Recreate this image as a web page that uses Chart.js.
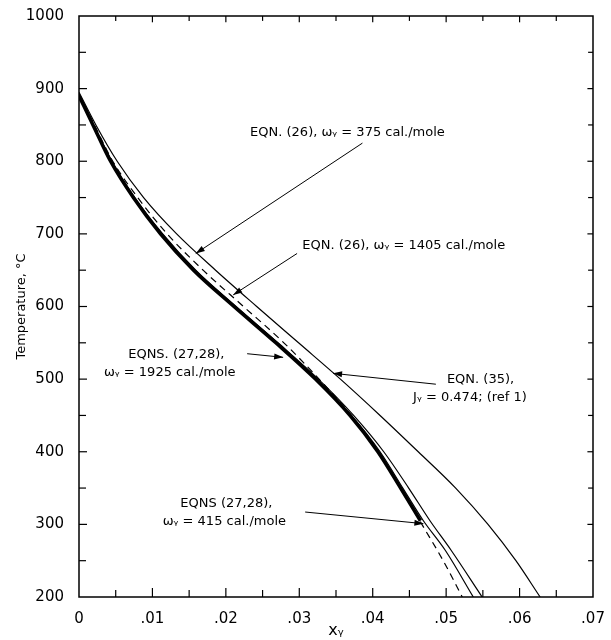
<!DOCTYPE html>
<html><head><meta charset="utf-8">
<script src="https://cdn.jsdelivr.net/npm/chart.js@4.4.0/dist/chart.umd.min.js"></script>
<style>html,body{margin:0;padding:0;background:#fff}canvas{display:block}</style>
</head><body>
<canvas id="c" width="611" height="640"></canvas>
<script>
// axis ticks
const xTickValues=[0,0.01,0.02,0.03,0.04,0.05,0.06,0.07];
const xTickLabels=['0','.01','.02','.03','.04','.05','.06','.07'];
const xMinorValues=[0.005,0.015,0.025,0.035,0.045,0.055,0.065];
const yTickValues=[200,300,400,500,600,700,800,900,1000];
const yTickLabels=['200','300','400','500','600','700','800','900','1000'];
const yMinorValues=[250,350,450,550,650,750,850,950];

// EQN (35), ref 1 - outermost curve
const eqn35T=[895,850,800,750,700,650,600,550,500,450,400,350,300,250,200];
const eqn35X=[0,0.0023,0.0052,0.0088,0.0133,0.0186,0.0242,0.0299,0.0356,0.0410,0.0462,0.0513,0.0557,0.0595,0.0628];
// EQN (26) curves - thin solid, in the bundle
const eqn26T=[893,850,800,750,700,650,600,550,500,450,400,350,305,264,200];
const eqn26aX=[0,0.002,0.0045,0.0076,0.0114,0.0159,0.0214,0.0271,0.0326,0.0374,0.0415,0.0449,0.0478,0.0507,0.0549];
const eqn26bX=[0,0.0019,0.0044,0.0075,0.0113,0.0158,0.0213,0.027,0.0324,0.0371,0.041,0.0441,0.0469,0.0499,0.0537];
// EQNS (27,28) w=1925 - heavy line
const eqn2728aT=[890,850,800,750,700,650,600,550,500,450,400,350,305];
const eqn2728aX=[0,0.0019,0.0043,0.0074,0.0111,0.0156,0.0211,0.0268,0.0322,0.0369,0.0407,0.0438,0.0465];
// EQNS (27,28) w=415 - dashed
const eqn2728bT=[893,850,800,750,700,650,600,550,500,450,400,350,300,250,200];
const eqn2728bX=[0,0.0021,0.0046,0.008,0.012,0.0169,0.0224,0.0279,0.0327,0.0371,0.0408,0.0438,0.0467,0.0496,0.0522];

// labels, positions in data units
const notes=[
  {lines:['EQN. (26), ωᵧ = 375 cal./mole'],x:0.0233,y:840,from:[0.0386,825],to:[0.0159,673]},
  {lines:['EQN. (26), ωᵧ = 1405 cal./mole'],x:0.0304,y:684,from:[0.0297,673],to:[0.021,616]},
  {lines:['EQNS. (27,28),','ωᵧ = 1925 cal./mole'],x:[0.0067,0.0034],y:534,from:[0.0229,535],to:[0.0278,530]},
  {lines:['EQN. (35),','Jᵧ = 0.474; (ref 1)'],x:[0.0501,0.0455],y:500,from:[0.0486,493],to:[0.0346,508]},
  {lines:['EQNS (27,28),','ωᵧ = 415 cal./mole'],x:[0.0138,0.0114],y:328,from:[0.0308,317],to:[0.0469,301]}
];

function pts(xs,ys){return xs.map((x,i)=>({x,y:ys[i]}))}
function line(data,width,dash){
  return {data,borderColor:'#000',borderWidth:width,borderDash:dash||[],pointRadius:0,fill:false,cubicInterpolationMode:'monotone'};
}

const framePlugin={
  id:'frame',
  afterDatasetsDraw(chart){
    const {ctx,chartArea:a,scales:{x,y}}=chart;
    ctx.save();
    ctx.strokeStyle='#000';ctx.lineWidth=1.5;
    ctx.strokeRect(a.left,a.top,a.right-a.left,a.bottom-a.top);
    ctx.lineWidth=1.2;
    const seg=(x1,y1,x2,y2)=>{ctx.beginPath();ctx.moveTo(x1,y1);ctx.lineTo(x2,y2);ctx.stroke()};
    const xt=(vals,len)=>vals.forEach(v=>{const p=x.getPixelForValue(v);seg(p,a.bottom,p,a.bottom-len);seg(p,a.top,p,a.top+len*0.7)});
    const yt=(vals,len)=>vals.forEach(v=>{const p=y.getPixelForValue(v);seg(a.left,p,a.left+len,p);seg(a.right,p,a.right-len*0.7,p)});
    xt(xTickValues.slice(1,-1),9);xt(xMinorValues,7);
    yt(yTickValues.slice(1,-1),8);yt(yMinorValues,7);
    // annotations
    ctx.fillStyle='#000';ctx.font='13px "DejaVu Sans"';ctx.textBaseline='middle';ctx.textAlign='left';
    const lh=18;
    notes.forEach(n=>{
      const py=y.getPixelForValue(n.y);
      n.lines.forEach((t,i)=>{
        const xv=Array.isArray(n.x)?n.x[i]:n.x;
        ctx.fillText(t,x.getPixelForValue(xv),py+i*lh);
      });
      const fx=x.getPixelForValue(n.from[0]),fy=y.getPixelForValue(n.from[1]);
      const tx=x.getPixelForValue(n.to[0]),ty=y.getPixelForValue(n.to[1]);
      ctx.lineWidth=1;seg(fx,fy,tx,ty);
      const ang=Math.atan2(ty-fy,tx-fx),L=9,W=3;
      ctx.beginPath();
      ctx.moveTo(tx,ty);
      ctx.lineTo(tx-L*Math.cos(ang)+W*Math.sin(ang),ty-L*Math.sin(ang)-W*Math.cos(ang));
      ctx.lineTo(tx-L*Math.cos(ang)-W*Math.sin(ang),ty-L*Math.sin(ang)+W*Math.cos(ang));
      ctx.closePath();ctx.fill();
    });
    ctx.restore();
  }
};

new Chart(document.getElementById('c'),{
  type:'line',
  data:{datasets:[
    line(pts(eqn35X,eqn35T),1.2),
    line(pts(eqn26aX,eqn26T),1.2),
    line(pts(eqn26bX,eqn26T),1.2),
    line(pts(eqn2728bX,eqn2728bT),1.2,[7,5]),
    line(pts(eqn2728aX,eqn2728aT),3.5)
  ]},
  options:{
    responsive:false,devicePixelRatio:1,animation:false,
    layout:{padding:{left:0,top:10,right:18,bottom:0}},
    plugins:{legend:{display:false},tooltip:{enabled:false}},
    scales:{
      x:{type:'linear',min:0,max:0.07,
        afterBuildTicks:s=>{s.ticks=xTickValues.map(v=>({value:v}))},
        afterFit:s=>{s.height=43},
        grid:{display:false},border:{display:false},
        ticks:{padding:5,color:'#000',font:{family:'DejaVu Sans',size:15},maxRotation:0,autoSkip:false,
          callback:(v,i)=>xTickLabels[i]},
        title:{display:true,text:'xᵧ',color:'#000',font:{family:'DejaVu Sans',size:16},padding:{top:0,bottom:0}}
      },
      y:{type:'linear',min:200,max:1000,
        afterBuildTicks:s=>{s.ticks=yTickValues.map(v=>({value:v}))},
        afterFit:s=>{s.width=79},
        grid:{display:false},border:{display:false},
        ticks:{padding:7,color:'#000',font:{family:'DejaVu Sans',size:15},autoSkip:false,
          callback:(v,i)=>yTickLabels[i]},
        title:{display:true,text:'Temperature, °C',color:'#000',font:{family:'DejaVu Sans',size:13},padding:{top:14,bottom:0}}
      }
    }
  },
  plugins:[framePlugin]
});
</script>
</body></html>
